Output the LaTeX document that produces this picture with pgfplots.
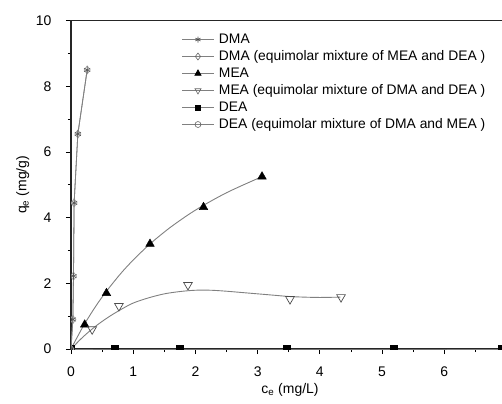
\documentclass[border=0pt]{standalone}
\usepackage{fontspec}
\setmainfont{Liberation Sans}
\usepackage{pgfplots}
\pgfplotsset{compat=1.18}
\definecolor{lg}{gray}{0.5}
\begin{document}
\begin{tikzpicture}
\begin{axis}[
  at={(0,0)}, anchor=south west,
  scale only axis, width=438bp, height=328.3bp,
  xmin=0, xmax=7.04, ymin=0, ymax=10,
  xtick={0,1,...,6}, ytick={0,2,...,10},
  minor xtick={0.5,1.5,...,6.5}, minor y tick num=1,
  xtick pos=bottom, ytick pos=left, tick align=outside,
  major tick length=5bp, minor tick length=3bp,
  every tick/.style={black, line width=0.9bp},
  axis line style={line width=1.4bp, black!85},
  ticklabel style={font=\fontsize{14}{16}\selectfont},
  xticklabel style={yshift=-9bp},
  yticklabel style={xshift=-11bp},
  /pgf/number format/assume math mode=true,
  xlabel={c\textsubscript{e} (mg/L)},
  ylabel={q\textsubscript{e} (mg/g)},
  label style={font=\fontsize{14}{16}\selectfont},
  xlabel style={at={(axis description cs:0.5,-0.125)}, anchor=center},
  ylabel style={at={(axis description cs:-0.11,0.5)}, anchor=center},
  clip marker paths=true,
  legend style={draw=none, fill=none, inner sep=0pt, outer sep=0pt,
    at={(axis description cs:0.2534,0.9625)}, anchor=north west,
    font=\fontsize{13.9}{16}\selectfont, row sep=4bp,
    nodes={inner sep=0pt, text height=10bp, text depth=3bp},
    /tikz/column 2/.style={column sep=0pt}},
  legend cell align=left,
  legend image code/.code={\draw[mark repeat=2,mark phase=2,#1]
    plot coordinates {(0cm,0cm)(0.55cm,0cm)(1.1cm,0cm)};},
]
% legend entries
\addlegendimage{lg, line width=0.8bp, mark=asterisk, mark size=3bp, mark options={black!70, line width=0.6bp}}
\addlegendentry{\hspace{5bp}DMA}
\addlegendimage{lg, line width=0.8bp, mark=diamond, mark size=3.5bp, mark options={black!60, fill=white, line width=0.6bp}}
\addlegendentry{\hspace{5bp}DMA (equimolar mixture of MEA and DEA )}
\addlegendimage{lg, line width=0.8bp, mark=triangle*, mark size=3.5bp, mark options={black}}
\addlegendentry{\hspace{5bp}MEA}
\addlegendimage{lg, line width=0.8bp, mark=triangle, mark size=3.5bp, mark options={black!60, fill=white, rotate=180, line width=0.6bp}}
\addlegendentry{\hspace{5bp}MEA (equimolar mixture of DMA and DEA )}
\addlegendimage{lg, line width=0.8bp, mark=square*, mark size=2.5bp, mark options={black}}
\addlegendentry{\hspace{5bp}DEA}
\addlegendimage{lg, line width=0.8bp, mark=o, mark size=3bp, mark options={black!60, fill=white, line width=0.6bp}}
\addlegendentry{\hspace{5bp}DEA (equimolar mixture of DMA and MEA )}

% fitted curves
\addplot[lg, line width=0.9bp, smooth, forget plot] coordinates {
  (0,0)(0.1,0.36)(0.22,0.77)(0.4,1.31)(0.57,1.76)(0.8,2.30)(1.0,2.71)
  (1.27,3.20)(1.6,3.71)(2.0,4.23)(2.5,4.76)(3.07,5.25)};
\addplot[lg, line width=0.9bp, smooth, forget plot] coordinates {
  (0,0)(0.2,0.38)(0.4,0.70)(0.6,0.97)(0.8,1.20)(1.0,1.40)(1.25,1.56)
  (1.5,1.68)(1.75,1.75)(2.0,1.79)(2.25,1.79)(2.5,1.76)(2.75,1.72)
  (3.0,1.68)(3.25,1.64)(3.5,1.60)(3.75,1.58)(4.0,1.57)(4.33,1.58)};

% DEA mixture
\addplot[lg, mark=o, mark size=3bp, mark options={black!70, fill=white}, forget plot]
  coordinates {(0,0)(0.7,0)(1.74,0)(3.46,0)(5.18,0)(6.93,0)};
% DEA
\addplot[lg, mark=square*, mark size=3.5bp, mark options={black}, forget plot]
  coordinates {(0,0)(0.7,0)(1.74,0)(3.46,0)(5.18,0)(6.93,0)};
% MEA points
\addplot[only marks, mark=triangle*, mark size=5bp, mark options={black}, forget plot]
  coordinates {(0.22,0.74)(0.57,1.70)(1.27,3.20)(2.13,4.32)(3.07,5.25)};
% MEA mixture points
\addplot[only marks, mark=triangle, mark size=5bp,
  mark options={black!70, fill=white, rotate=180, line width=0.7bp}, forget plot]
  coordinates {(0.34,0.60)(0.77,1.31)(1.88,1.95)(3.52,1.52)(4.34,1.58)};
% DMA mixture
\addplot[lg, line width=0.8bp, mark=diamond, mark size=4bp,
  mark options={black!35, fill=white}, forget plot]
  coordinates {(0,0)(0.03,0.9)(0.04,2.22)(0.05,4.45)(0.11,6.55)(0.26,8.5)};
% DMA
\addplot[lg, line width=0.8bp, mark=asterisk, mark size=3.5bp,
  mark options={black!65, line width=0.7bp}, forget plot]
  coordinates {(0,0)(0.03,0.9)(0.04,2.22)(0.05,4.45)(0.11,6.55)(0.26,8.5)};
\end{axis}
\pgfresetboundingbox
\useasboundingbox (-71bp,-55bp) rectangle (431bp,349bp);
\end{tikzpicture}
\end{document}
